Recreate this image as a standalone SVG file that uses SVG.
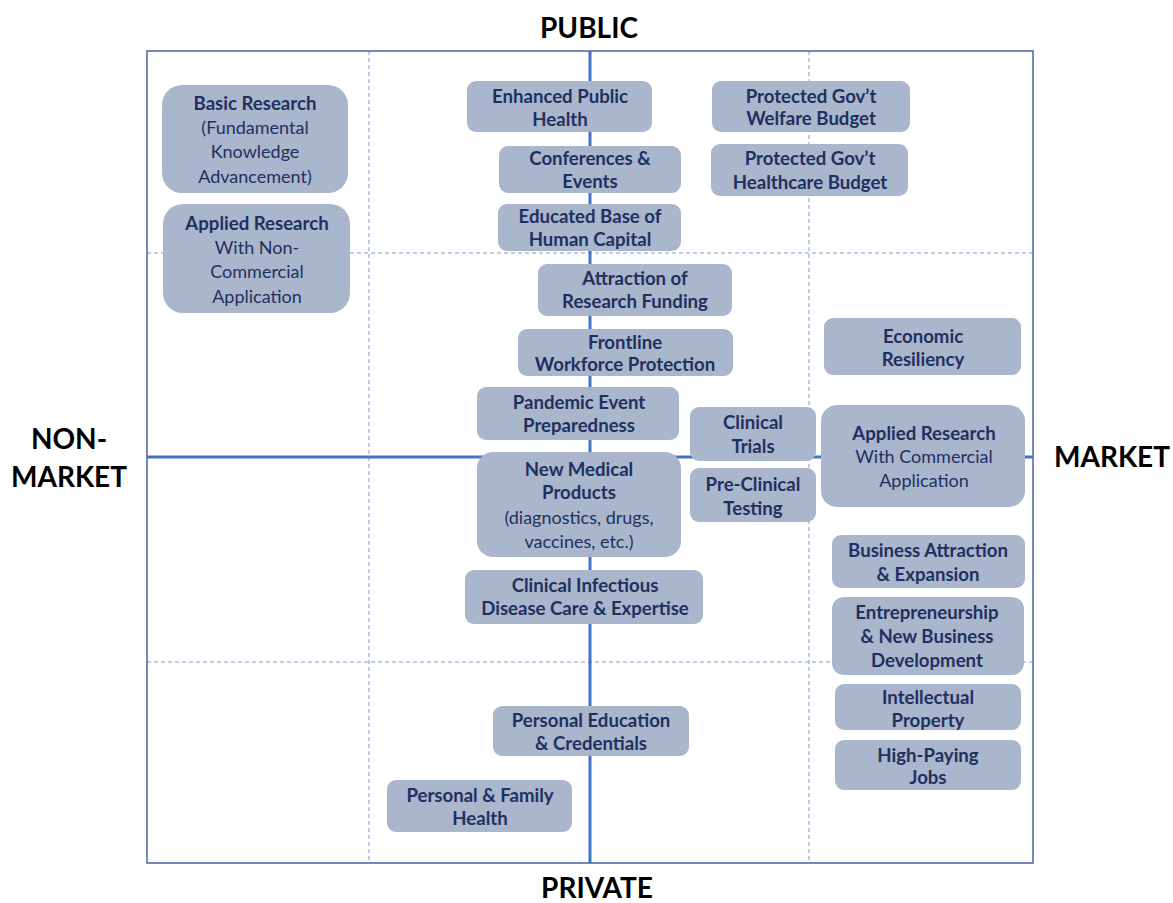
<svg xmlns="http://www.w3.org/2000/svg" width="1173" height="903" viewBox="0 0 1173 903">
<style>
.box{fill:#aab6cb;}
.t{font-family:Lato,"Open Sans","Liberation Sans",sans-serif;font-size:18px;fill:#1f3060;text-anchor:middle;}
.b{font-weight:bold;font-size:18.6px;}
.ax{font-family:Lato,"Liberation Sans",sans-serif;font-size:28px;font-weight:bold;fill:#000;text-anchor:middle;}
.dash{stroke:#7f9ad6;stroke-width:1;stroke-dasharray:4 3;fill:none;}
.axis{stroke:#4472c4;stroke-width:3;}
</style>
<rect width="1173" height="903" fill="#fff"/>
<g id="grid">
<line class="dash" x1="369" y1="51" x2="369" y2="863"/>
<line class="dash" x1="809" y1="51" x2="809" y2="863"/>
<line class="dash" x1="147" y1="253" x2="1033" y2="253"/>
<line class="dash" x1="147" y1="662" x2="1033" y2="662"/>
<line class="axis" x1="590" y1="51" x2="590" y2="863"/>
<line class="axis" x1="147" y1="457" x2="1033" y2="457"/>
<rect x="147" y="51" width="886" height="812" fill="none" stroke="#4a63a8" stroke-width="1.5"/>
</g>
<g id="labels">
<text class="ax" x="589" y="38">PUBLIC</text>
<text class="ax" x="597" y="898">PRIVATE</text>
<text class="ax" x="69" y="449">NON-</text>
<text class="ax" x="69" y="487">MARKET</text>
<text class="ax" x="1112" y="467">MARKET</text>
</g>
<g id="n1"><rect class="box" x="162" y="85" width="186" height="108" rx="20"/><text class="t"><tspan class="b" x="255" y="110">Basic Research</tspan><tspan x="255" y="134">(Fundamental</tspan><tspan x="255" y="158">Knowledge</tspan><tspan x="255" y="183">Advancement)</tspan></text></g>
<g id="n2"><rect class="box" x="163" y="204" width="187" height="109" rx="20"/><text class="t"><tspan class="b" x="257" y="230">Applied Research</tspan><tspan x="257" y="254">With Non-</tspan><tspan x="257" y="278">Commercial</tspan><tspan x="257" y="303">Application</tspan></text></g>
<g id="n3"><rect class="box" x="467" y="81" width="185" height="51" rx="9"/><text class="t b"><tspan x="560" y="103">Enhanced Public</tspan><tspan x="560" y="126">Health</tspan></text></g>
<g id="n4"><rect class="box" x="712" y="81" width="198" height="51" rx="9"/><text class="t b"><tspan x="811" y="103">Protected Gov’t</tspan><tspan x="811" y="125">Welfare Budget</tspan></text></g>
<g id="n5"><rect class="box" x="499" y="146" width="182" height="47" rx="9"/><text class="t b"><tspan x="590" y="165">Conferences &amp;</tspan><tspan x="590" y="188">Events</tspan></text></g>
<g id="n6"><rect class="box" x="711" y="144" width="197" height="52" rx="9"/><text class="t b"><tspan x="810" y="165">Protected Gov’t</tspan><tspan x="810" y="189">Healthcare Budget</tspan></text></g>
<g id="n7"><rect class="box" x="498" y="204" width="183" height="47" rx="9"/><text class="t b"><tspan x="590" y="223">Educated Base of</tspan><tspan x="590" y="246">Human Capital</tspan></text></g>
<g id="n8"><rect class="box" x="538" y="264" width="194" height="52" rx="9"/><text class="t b"><tspan x="635" y="285">Attraction of</tspan><tspan x="635" y="308">Research Funding</tspan></text></g>
<g id="n9"><rect class="box" x="518" y="329" width="215" height="47" rx="9"/><text class="t b"><tspan x="625" y="349">Frontline</tspan><tspan x="625" y="371">Workforce Protection</tspan></text></g>
<g id="n10"><rect class="box" x="824" y="318" width="197" height="57" rx="9"/><text class="t b"><tspan x="923" y="343">Economic</tspan><tspan x="923" y="366">Resiliency</tspan></text></g>
<g id="n11"><rect class="box" x="477" y="387" width="202" height="53" rx="9"/><text class="t b"><tspan x="579" y="409">Pandemic Event</tspan><tspan x="579" y="432">Preparedness</tspan></text></g>
<g id="n12"><rect class="box" x="690" y="407" width="126" height="54" rx="9"/><text class="t b"><tspan x="753" y="429">Clinical</tspan><tspan x="753" y="453">Trials</tspan></text></g>
<g id="n13"><rect class="box" x="821" y="405" width="204" height="102" rx="16"/><text class="t"><tspan class="b" x="924" y="440">Applied Research</tspan><tspan x="924" y="463">With Commercial</tspan><tspan x="924" y="487">Application</tspan></text></g>
<g id="n14"><rect class="box" x="477" y="452" width="204" height="105" rx="16"/><text class="t"><tspan class="b" x="579" y="476">New Medical</tspan><tspan class="b" x="579" y="499">Products</tspan><tspan x="579" y="524">(diagnostics, drugs,</tspan><tspan x="579" y="548">vaccines, etc.)</tspan></text></g>
<g id="n15"><rect class="box" x="690" y="468" width="126" height="54" rx="9"/><text class="t b"><tspan x="753" y="491">Pre-Clinical</tspan><tspan x="753" y="515">Testing</tspan></text></g>
<g id="n16"><rect class="box" x="465" y="570" width="238" height="54" rx="9"/><text class="t b"><tspan x="585" y="592">Clinical Infectious</tspan><tspan x="585" y="615">Disease Care &amp; Expertise</tspan></text></g>
<g id="n17"><rect class="box" x="832" y="535" width="193" height="53" rx="9"/><text class="t b"><tspan x="928" y="557">Business Attraction</tspan><tspan x="928" y="581">&amp; Expansion</tspan></text></g>
<g id="n18"><rect class="box" x="832" y="597" width="192" height="78" rx="12"/><text class="t b"><tspan x="927" y="619">Entrepreneurship</tspan><tspan x="927" y="643">&amp; New Business</tspan><tspan x="927" y="667">Development</tspan></text></g>
<g id="n19"><rect class="box" x="835" y="684" width="186" height="46" rx="9"/><text class="t b"><tspan x="928" y="704">Intellectual</tspan><tspan x="928" y="727">Property</tspan></text></g>
<g id="n20"><rect class="box" x="835" y="740" width="186" height="50" rx="9"/><text class="t b"><tspan x="928" y="762">High-Paying</tspan><tspan x="928" y="784">Jobs</tspan></text></g>
<g id="n21"><rect class="box" x="493" y="706" width="196" height="50" rx="9"/><text class="t b"><tspan x="591" y="727">Personal Education</tspan><tspan x="591" y="750">&amp; Credentials</tspan></text></g>
<g id="n22"><rect class="box" x="387" y="780" width="185" height="52" rx="9"/><text class="t b"><tspan x="480" y="802">Personal &amp; Family</tspan><tspan x="480" y="825">Health</tspan></text></g>
</svg>
